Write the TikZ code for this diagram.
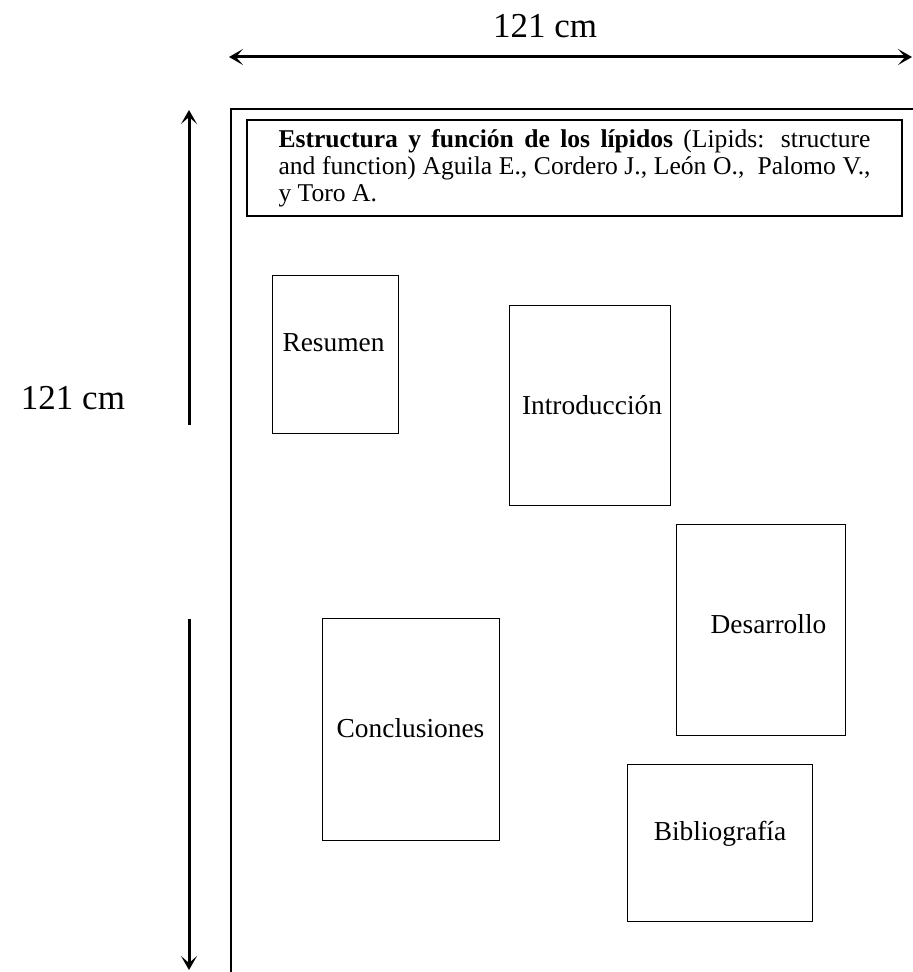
\documentclass[tikz,border=0pt]{standalone}
\usepackage{fontspec}
\setmainfont{Liberation Serif}
\usetikzlibrary{arrows.meta}
\tikzset{
	>={Stealth[length=7pt,width=8pt,inset=3.5pt]},
	sect/.style={draw=black, line width=0.5pt, inner sep=0pt},
	lbl/.style={anchor=base, inner sep=0pt, font=\fontsize{13.7}{16}\selectfont},
	dimlbl/.style={anchor=base, inner sep=0pt, font=\fontsize{17.5}{20}\selectfont},
	dimline/.style={black, line width=1.5pt},
}
\begin{document}
\begin{tikzpicture}[x=0.5pt, y=-0.5pt]
		\useasboundingbox (0,0) rectangle (913,972);
		\node [dimlbl] at (545,38) (wlbl) {121 cm};
		\node [dimlbl] at (73,409) (hlbl) {121 cm};
		\coordinate (hL) at (229,57);
		\coordinate (hR) at (912,57);
		\coordinate (vTop) at (189,110);
		\coordinate (vUp) at (189,425);
		\coordinate (vDn) at (189,619);
		\coordinate (vBot) at (189,970);
		\coordinate (fBL) at (231,980);
		\coordinate (fTL) at (231,109);
		\coordinate (fTR) at (920,109);
		\node [draw=black, line width=1pt, minimum width=327.5pt, minimum height=48pt, align=left, inner sep=0pt, font=\fontsize{12.8}{13.5}\selectfont] at (574.5,168) (title) {\makebox[296pt][s]{\textbf{Estructura y función de los lípidos} (Lipids: structure}\\\makebox[296pt][s]{and function) Aguila E., Cordero J., León O.,\ \ Palomo V.,}\\y Toro A.};
		\node [sect, minimum width=63pt, minimum height=78.5pt] at (335,354.5) (res) {};
		\node [sect, minimum width=80.5pt, minimum height=99.5pt] at (589.5,405.5) (intro) {};
		\node [sect, minimum width=84.5pt, minimum height=105.5pt] at (760.5,629.5) (des) {};
		\node [sect, minimum width=88.5pt, minimum height=111pt] at (410.5,729) (concl) {};
		\node [sect, minimum width=92.5pt, minimum height=78.5pt] at (719.5,842.5) (biblio) {};
		\node [lbl] at (333.5,351) (resT) {Resumen};
		\node [lbl] at (592,414) (introT) {Introducción};
		\node [lbl] at (768.5,633) (desT) {Desarrollo};
		\node [lbl] at (410.5,737) (conclT) {Conclusiones};
		\node [lbl] at (720,840) (biblioT) {Bibliografía};
		\draw [dimline, <->] (hL) -- (hR);
		\draw [dimline, ->] (vUp) -- (vTop);
		\draw [dimline, ->] (vDn) -- (vBot);
		\draw [black, line width=0.7pt] (fBL) -- (fTL) -- (fTR);
	\end{tikzpicture}
\end{document}
